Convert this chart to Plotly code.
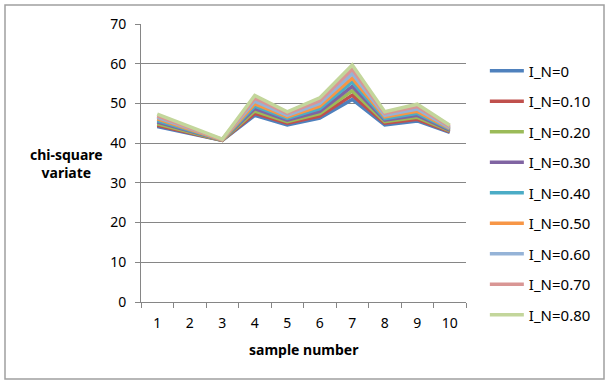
import plotly.graph_objects as go

samples = [1, 2, 3, 4, 5, 6, 7, 8, 9, 10]

series_names = ["I_N=0", "I_N=0.10", "I_N=0.20", "I_N=0.30", "I_N=0.40",
                "I_N=0.50", "I_N=0.60", "I_N=0.70", "I_N=0.80"]

in_000 = [44.2, 42.4, 40.7, 47.0, 44.6, 46.3, 51.0, 44.6, 45.6, 42.7]
in_010 = [44.5, 42.6, 40.7, 47.5, 45.0, 46.8, 52.1, 45.0, 46.0, 42.9]
in_020 = [44.9, 42.8, 40.7, 48.1, 45.4, 47.4, 53.2, 45.4, 46.5, 43.1]
in_030 = [45.3, 43.0, 40.8, 48.7, 45.8, 48.0, 54.3, 45.8, 47.0, 43.3]
in_040 = [45.7, 43.2, 40.8, 49.3, 46.2, 48.7, 55.4, 46.2, 47.5, 43.5]
in_050 = [46.1, 43.4, 40.8, 49.9, 46.6, 49.3, 56.4, 46.6, 48.0, 43.7]
in_060 = [46.5, 43.6, 40.9, 50.6, 47.0, 50.0, 57.5, 47.0, 48.6, 43.9]
in_070 = [46.9, 43.9, 40.9, 51.3, 47.5, 50.7, 58.6, 47.5, 49.2, 44.2]
in_080 = [47.3, 44.1, 41.0, 52.0, 47.9, 51.4, 59.7, 47.9, 49.8, 44.5]

all_series = [in_000, in_010, in_020, in_030, in_040, in_050, in_060, in_070, in_080]

colors = ["#4F81BD", "#C0504D", "#9BBB59", "#8064A2", "#4BACC6",
          "#F79646", "#95B3D7", "#D99694", "#C3D69B"]

FONT = "Noto Sans"

fig = go.Figure()
for name, vals, col in zip(series_names, all_series, colors):
    fig.add_trace(go.Scatter(x=[str(s) for s in samples], y=vals, name=name,
                             mode="lines", legendgroup=name,
                             line=dict(color=col, width=3.5)))

fig.update_layout(
    width=610, height=383,
    margin=dict(l=141, r=144, t=24, b=81),
    paper_bgcolor="white", plot_bgcolor="white",
    font=dict(family=FONT, size=14, color="black"),
    showlegend=True,
    legend=dict(x=1.058, y=0.89, xanchor="left", yanchor="top",
                traceorder="grouped", tracegroupgap=8,
                font=dict(family=FONT, size=15, color="black"),
                itemwidth=34),
    xaxis=dict(type="category", range=[-0.5, 9.5], showgrid=False, showline=True,
               linecolor="#868686", linewidth=1, ticks="outside",
               tickson="boundaries", ticklen=5, tickcolor="#868686",
               ticklabelstandoff=8, tickfont=dict(size=14)),
    yaxis=dict(range=[0, 70], dtick=10, showgrid=True, gridcolor="#868686",
               gridwidth=1, showline=True, linecolor="#868686", linewidth=1,
               ticks="outside", ticklen=5, tickcolor="#868686",
               ticklabelstandoff=6, zeroline=False, tickfont=dict(size=14)),
)

fig.add_annotation(text="<b>chi-square<br>variate</b>", xref="paper", yref="paper",
                   x=-0.228, y=0.50, xanchor="center", yanchor="middle",
                   showarrow=False,
                   font=dict(family=FONT, size=14, color="black"))
fig.add_annotation(text="<b>sample number</b>", xref="paper", yref="paper",
                   x=0.5, y=-0.17, xanchor="center", yanchor="middle",
                   showarrow=False,
                   font=dict(family=FONT, size=14, color="black"))

# outer chart border
fig.add_shape(type="rect", xref="paper", yref="paper",
              x0=(5 - 141) / 325, x1=(604 - 141) / 325,
              y0=(302 - 379) / 278, y1=(302 - 5) / 278,
              line=dict(color="#A0A0A0", width=1.5), layer="below")

fig.write_html("out.html", config={"displayModeBar": False},
               post_script="document.body.style.margin='0';")
